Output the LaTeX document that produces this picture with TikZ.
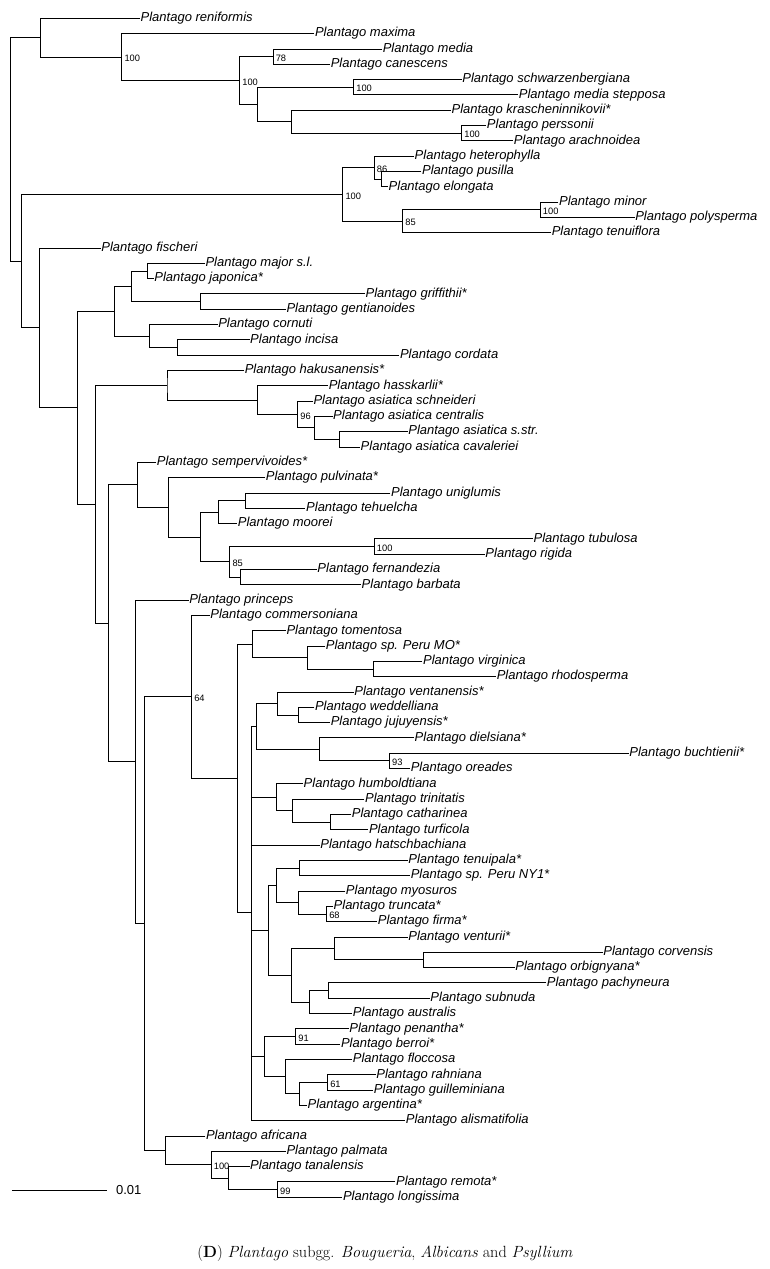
\documentclass[tikz,border=0pt]{standalone}
\usepackage{fontspec}
\newfontfamily\arialfont{Liberation Sans}
\usetikzlibrary{calc}

\tikzset{
  branch/.style={line width=0.8pt, black},
  leaf/.style={anchor=base west, inner xsep=0.5pt, inner ysep=0pt, yshift=-3.3pt,
    font=\arialfont\itshape\fontsize{13}{15}\selectfont},
  boot/.style={anchor=west, inner xsep=2.5pt, inner ysep=0pt, yshift=-1.5pt,
    font=\arialfont\fontsize{9.3}{10}\selectfont},
}

% leaf: name, tip x, row, species
\newcommand\leaf[4]{%
  \coordinate (#1) at (#2,{18.3+(#3-1)*15.31});
  \node[leaf] (#1-t) at (#1) {Plantago #4};}
% clade: name, x, upper child, lower child
\newcommand\clade[4]{%
  \path let \p1=($(#3)!0.5!(#4)$), \p2=(#2,0) in coordinate (#1) at (\x2,\y1);
  \draw[branch] (#3) -| (#1) |- (#4);}
% bootstrap value
\newcommand\boot[2]{\node[boot] (#1-b) at (#1) {#2};}

\begin{document}
\begin{tikzpicture}[x=0.9823pt,y=-1pt]
  \useasboundingbox (0pt,0pt) rectangle (770pt,-1269pt);

  % leaves
  \leaf{ren}{142.5}{1}{reniformis}
  \leaf{max}{320}{2}{maxima}
  \leaf{med}{389}{3}{media}
  \leaf{can}{336}{4}{canescens}
  \leaf{sch}{470}{5}{schwarzenbergiana}
  \leaf{mst}{527.5}{6}{media stepposa}
  \leaf{kra}{459}{7}{krascheninnikovii*}
  \leaf{per}{495}{8}{perssonii}
  \leaf{ara}{522.5}{9}{arachnoidea}
  \leaf{het}{421.5}{10}{heterophylla}
  \leaf{pus}{429}{11}{pusilla}
  \leaf{elo}{395}{12}{elongata}
  \leaf{min}{568.5}{13}{minor}
  \leaf{pol}{646}{14}{polysperma}
  \leaf{ten}{561}{15}{tenuiflora}
  \leaf{fis}{102.5}{16}{fischeri}
  \leaf{maj}{208.5}{17}{major s.l.}
  \leaf{jap}{156.5}{18}{japonica*}
  \leaf{gri}{371.5}{19}{griffithii*}
  \leaf{gen}{291}{20}{gentianoides}
  \leaf{cor}{221.5}{21}{cornuti}
  \leaf{inc}{254}{22}{incisa}
  \leaf{crd}{406.5}{23}{cordata}
  \leaf{hak}{248.5}{24}{hakusanensis*}
  \leaf{has}{334}{25}{hasskarlii*}
  \leaf{asn}{318.5}{26}{asiatica schneideri}
  \leaf{ace}{338.5}{27}{asiatica centralis}
  \leaf{ass}{415}{28}{asiatica s.str.}
  \leaf{aca}{366.5}{29}{asiatica cavaleriei}
  \leaf{sem}{159}{30}{sempervivoides*}
  \leaf{pul}{270}{31}{pulvinata*}
  \leaf{uni}{397.5}{32}{uniglumis}
  \leaf{teh}{311}{33}{tehuelcha}
  \leaf{moo}{241.5}{34}{moorei}
  \leaf{tub}{542.5}{35}{tubulosa}
  \leaf{rig}{493.5}{36}{rigida}
  \leaf{fer}{322.5}{37}{fernandezia}
  \leaf{bar}{367.5}{38}{barbata}
  \leaf{pri}{192}{39}{princeps}
  \leaf{com}{213.5}{40}{commersoniana}
  \leaf{tom}{291}{41}{tomentosa}
  \leaf{pmo}{331}{42}{sp. Peru MO*}
  \leaf{vir}{430}{43}{virginica}
  \leaf{rho}{505}{44}{rhodosperma}
  \leaf{ven}{360}{45}{ventanensis*}
  \leaf{wed}{320}{46}{weddelliana}
  \leaf{juj}{336}{47}{jujuyensis*}
  \leaf{die}{421.5}{48}{dielsiana*}
  \leaf{buc}{640}{49}{buchtienii*}
  \leaf{ore}{417.5}{50}{oreades}
  \leaf{hum}{308.5}{51}{humboldtiana}
  \leaf{tri}{371}{52}{trinitatis}
  \leaf{cat}{357.5}{53}{catharinea}
  \leaf{tur}{375}{54}{turficola}
  \leaf{hat}{325.5}{55}{hatschbachiana}
  \leaf{tnp}{415}{56}{tenuipala*}
  \leaf{pny}{417.5}{57}{sp. Peru NY1*}
  \leaf{myo}{351.5}{58}{myosuros}
  \leaf{tru}{339}{59}{truncata*}
  \leaf{fir}{384}{60}{firma*}
  \leaf{vnt}{415}{61}{venturii*}
  \leaf{crv}{613.5}{62}{corvensis}
  \leaf{orb}{524}{63}{orbignyana*}
  \leaf{pac}{556}{64}{pachyneura}
  \leaf{sub}{437.5}{65}{subnuda}
  \leaf{aus}{358.5}{66}{australis}
  \leaf{pen}{355}{67}{penantha*}
  \leaf{ber}{346.5}{68}{berroi*}
  \leaf{flo}{358.5}{69}{floccosa}
  \leaf{rah}{382.5}{70}{rahniana}
  \leaf{gui}{380}{71}{guilleminiana}
  \leaf{arg}{312.5}{72}{argentina*}
  \leaf{ali}{412.5}{73}{alismatifolia}
  \leaf{afr}{209}{74}{africana}
  \leaf{pal}{291}{75}{palmata}
  \leaf{tan}{254}{76}{tanalensis}
  \leaf{rem}{402.5}{77}{remota*}
  \leaf{lon}{348.5}{78}{longissima}

  % top clade
  \clade{A4}{278}{med}{can}
  \clade{A6}{360}{sch}{mst}
  \clade{A8}{470}{per}{ara}
  \clade{A7}{297}{kra}{A8}
  \clade{A5}{262}{A6}{A7}
  \clade{A3}{244}{A4}{A5}
  \clade{A2}{124}{max}{A3}
  \clade{A}{41}{ren}{A2}
  \boot{A4}{78} \boot{A6}{100} \boot{A8}{100} \boot{A3}{100} \boot{A2}{100}

  \clade{C1b}{388}{pus}{elo}
  \clade{C1}{381}{het}{C1b}
  \clade{C3}{550}{min}{pol}
  \clade{C2}{410}{C3}{ten}
  \clade{C}{349}{C1}{C2}
  \boot{C1}{86} \boot{C3}{100} \boot{C2}{85} \boot{C}{100}

  \clade{E1c}{150.5}{maj}{jap}
  \clade{E1d}{204}{gri}{gen}
  \clade{E1a}{134}{E1c}{E1d}
  \clade{E1e}{181}{inc}{crd}
  \clade{E1b}{152.5}{cor}{E1e}
  \clade{E1}{116}{E1a}{E1b}

  \clade{F4}{346}{ass}{aca}
  \clade{F3}{320}{ace}{F4}
  \clade{F2}{303}{asn}{F3}
  \clade{F1}{262}{has}{F2}
  \clade{F}{170}{hak}{F1}
  \boot{F2}{96}

  \clade{G1e}{250}{uni}{teh}
  \clade{G1c}{222.5}{G1e}{moo}
  \clade{G1f}{381}{tub}{rig}
  \clade{G1g}{245}{fer}{bar}
  \clade{G1d}{234}{G1f}{G1g}
  \clade{G1b}{203.5}{G1c}{G1d}
  \clade{G1a}{171.5}{pul}{G1b}
  \clade{G1}{140}{sem}{G1a}
  \boot{G1f}{100} \boot{G1d}{85}

  % south american clade
  \clade{K1b}{380}{vir}{rho}
  \clade{K1a}{313}{pmo}{K1b}
  \clade{K1}{257}{tom}{K1a}
  \clade{L1a}{303.5}{wed}{juj}
  \clade{L1}{282.5}{ven}{L1a}
  \clade{L2a}{396.5}{buc}{ore}
  \clade{L2}{325.5}{die}{L2a}
  \clade{L}{261}{L1}{L2}
  \boot{L2a}{93}
  \clade{M2}{336.5}{cat}{tur}
  \clade{M1}{297.5}{tri}{M2}
  \clade{M}{281}{hum}{M1}
  \clade{N1a}{305}{tnp}{pny}
  \clade{N1c}{332.5}{tru}{fir}
  \clade{N1b}{304}{myo}{N1c}
  \clade{N1}{281.5}{N1a}{N1b}
  \clade{N2c}{431}{crv}{orb}
  \clade{N2a}{340}{vnt}{N2c}
  \clade{N2d}{334}{pac}{sub}
  \clade{N2b}{315}{N2d}{aus}
  \clade{N2}{297}{N2a}{N2b}
  \clade{N}{273.5}{N1}{N2}
  \boot{N1c}{68}
  \clade{O1}{301}{pen}{ber}
  \clade{O4}{333.5}{rah}{gui}
  \clade{O3}{305}{O4}{arg}
  \clade{O2}{291}{flo}{O3}
  \clade{O}{269}{O1}{O2}
  \boot{O1}{91} \boot{O4}{61}

  % polytomy
  \path let \p1=(L), \p2=(M), \p3=(hat), \p4=(N), \p5=(O), \p6=(ali), \p7=(255.5,0)
    in coordinate (K2) at (\x7,{(\y1+\y2+\y3+\y4+\y5+\y6)/6});
  \draw[branch] (L) -| (K2) |- (ali);
  \draw[branch] (K2 |- M) -- (M);
  \draw[branch] (K2 |- hat) -- (hat);
  \draw[branch] (K2 |- N) -- (N);
  \draw[branch] (K2 |- O) -- (O);

  \clade{K}{241.5}{K1}{K2}
  \clade{I}{195}{com}{K}
  \boot{I}{64}

  \clade{J3}{282.5}{rem}{lon}
  \clade{J2}{232.5}{tan}{J3}
  \clade{J1}{215}{pal}{J2}
  \clade{J}{168.5}{afr}{J1}
  \boot{J3}{99} \boot{J1}{100}

  \clade{H}{147.5}{I}{J}
  \clade{G2}{137.5}{pri}{H}
  \clade{G}{110}{G1}{G2}
  \clade{E2}{97.5}{F}{G}
  \clade{E}{79}{E1}{E2}
  \clade{D}{40}{fis}{E}
  \clade{B}{22}{C}{D}
  \clade{root}{11}{A}{B}

  % scale bar
  \coordinate (sb1) at (12,1190);
  \coordinate (sb2) at (108.5,1190);
  \draw[branch] (sb1) -- (sb2);
  \node[anchor=west, inner sep=0pt, font=\arialfont\fontsize{13}{15}\selectfont] (sbl) at (118,1190) {0.01};

  \node[font=\fontsize{16.2}{19}\selectfont] (cap) at (385pt,-1253pt)
    {(\textbf{D}) \textit{Plantago} subgg. \textit{Bougueria}, \textit{Albicans} and \textit{Psyllium}};
\end{tikzpicture}
\end{document}
